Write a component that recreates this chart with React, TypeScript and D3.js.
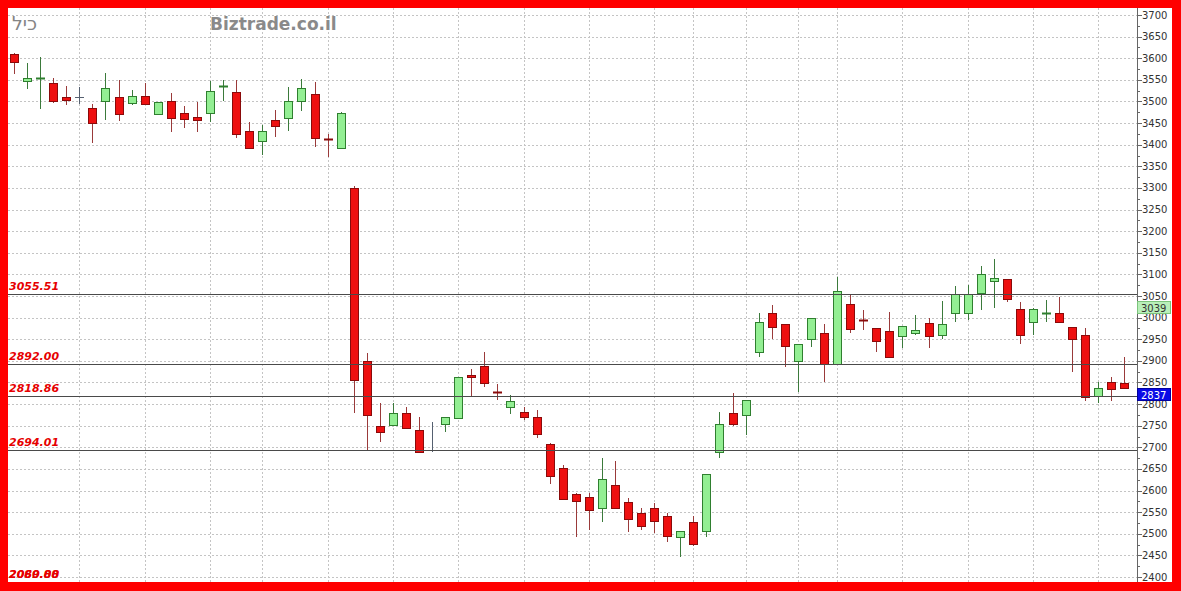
import React from 'react';
import * as d3 from 'd3';

// Daily OHLC series (oldest → newest)
const opens = [
  3610, 3547, 3551, 3542, 3511, 3510, 3484, 3503, 3511, 3496,
  3513, 3471, 3501, 3473, 3463, 3472, 3532, 3521, 3432, 3409,
  3456, 3463, 3503, 3517, 3414, 3392, 3299, 2900, 2749, 2752,
  2780, 2739, 2694, 2752, 2767, 2867, 2888, 2828, 2794, 2781,
  2770, 2707, 2651, 2591, 2586, 2559, 2613, 2573, 2549, 2559,
  2540, 2493, 2528, 2507, 2688, 2779, 2775, 2920, 3010, 2985,
  2900, 2950, 2964, 2893, 3031, 2995, 2975, 2970, 2958, 2965,
  2988, 2960, 3010, 3010, 3055, 3085, 3089, 3019, 2988, 3008,
  3010, 2979, 2960, 2819, 2850, 2848,
];
const highs = [
  3612, 3588, 3602, 3555, 3536, 3534, 3493, 3565, 3550, 3526,
  3543, 3499, 3520, 3490, 3499, 3547, 3550, 3550, 3453, 3446,
  3480, 3534, 3552, 3546, 3425, 3475, 3305, 2919, 2803, 2803,
  2794, 2769, 2759, 2769, 2863, 2880, 2921, 2846, 2821, 2794,
  2786, 2710, 2659, 2594, 2594, 2675, 2669, 2582, 2559, 2572,
  2548, 2507, 2540, 2638, 2782, 2825, 2809, 3010, 3029, 2985,
  2939, 2998, 2985, 3095, 3054, 3018, 2975, 3012, 2981, 3006,
  2998, 3039, 3074, 3075, 3119, 3135, 3089, 3035, 3023, 3041,
  3048, 2979, 2975, 2850, 2863, 2910,
];
const lows = [
  3563, 3528, 3482, 3496, 3491, 3494, 3405, 3457, 3455, 3492,
  3492, 3469, 3430, 3438, 3430, 3452, 3502, 3415, 3390, 3376,
  3417, 3432, 3479, 3395, 3372, 3390, 2779, 2694, 2713, 2752,
  2746, 2688, 2690, 2735, 2765, 2817, 2839, 2809, 2778, 2763,
  2721, 2614, 2580, 2493, 2509, 2528, 2559, 2505, 2509, 2502,
  2482, 2447, 2472, 2493, 2675, 2749, 2728, 2910, 2950, 2885,
  2829, 2931, 2852, 2893, 2964, 2971, 2921, 2910, 2929, 2960,
  2929, 2950, 2991, 2995, 3018, 3022, 3037, 2938, 2960, 2991,
  2989, 2875, 2806, 2802, 2808, 2835,
];
const closes = [
  3591, 3555, 3554, 3501, 3505, 3510, 3450, 3532, 3472, 3513,
  3494, 3499, 3462, 3460, 3456, 3524, 3536, 3424, 3392, 3432,
  3443, 3502, 3532, 3416, 3411, 3473, 2854, 2776, 2735, 2780,
  2746, 2688, 2694, 2769, 2862, 2862, 2848, 2826, 2807, 2769,
  2730, 2633, 2580, 2574, 2555, 2626, 2559, 2534, 2518, 2528,
  2493, 2507, 2478, 2638, 2753, 2753, 2809, 2989, 2978, 2934,
  2939, 2998, 2893, 3062, 2974, 2992, 2944, 2910, 2981, 2971,
  2958, 2985, 3054, 3054, 3100, 3091, 3042, 2960, 3019, 3010,
  2989, 2951, 2817, 2837, 2833, 2837,
];

// Horizontal support / resistance levels
const levels = [3055.51, 2892.0, 2818.86, 2694.01];
// Levels lying below the visible price range (labels pinned to the bottom)
const hiddenLevels = [2060.0, 2089.88];

// Session indices where the vertical grid lines fall
const gridSessions = [5, 10, 15, 19, 24, 29, 34, 39, 44, 49, 52, 56, 60, 63, 68, 73, 78, 83];

const yTicks = d3.range(2400, 3701, 50);
const yMinorTicks = d3.range(2425, 3700, 50);

// Value markers on the price axis
const markerValues = [3039, 2837];
const markerFills = ['#b9efb9', '#0a0ae6'];
const markerStrokes = ['#7cc47c', '#0000a0'];
const markerText = ['#333333', '#ffffff'];

const W = 1181;
const H = 591;
const frameL = 8;
const frameT = 8;
const frameR = 1172;
const frameB = 582;
const axisX = 1137;

const RED_FILL = '#ee1010';
const RED_STROKE = '#8a0a0a';
const RED_WICK = '#9a3a3a';
const GREEN_FILL = '#93ef93';
const GREEN_STROKE = '#2f7f2f';
const GREEN_WICK = '#3b7a3b';
const FLAT = '#556070';

export default function App() {
  const n = opens.length;
  const x = d3
    .scaleBand<number>()
    .domain(d3.range(n))
    .range([7.5, 1131])
    .paddingInner(0);
  const y = d3.scaleLinear().domain([2400, 3700]).range([577, 15]);
  const yc = d3.scaleLinear().domain([2400, 3700]).range([577, 15]).clamp(true);

  const cx = (i: number) => Math.round((x(i) as number) + x.bandwidth() / 2);
  const crisp = (v: number) => Math.round(v) + 0.5;

  return (
    <svg
      width={W}
      height={H}
      style={{ position: 'absolute', left: 0, top: 0, display: 'block' }}
      xmlns="http://www.w3.org/2000/svg"
    >
      <rect x={0} y={0} width={W} height={H} fill="#ff0000" />
      <rect x={frameL} y={frameT} width={frameR - frameL} height={frameB - frameT} fill="#ffffff" />

      {/* grid */}
      <g stroke="#c4c4c4" strokeWidth={1} strokeDasharray="2,2">
        {yTicks.map((t) => (
          <line key={'h' + t} x1={frameL} x2={axisX} y1={crisp(y(t))} y2={crisp(y(t))} />
        ))}
        {gridSessions.map((s) => (
          <line key={'v' + s} x1={cx(s) + 0.5} x2={cx(s) + 0.5} y1={frameT} y2={frameB} />
        ))}
      </g>

      {/* watermark & symbol */}
      <text
        x={12}
        y={30}
        fontFamily="DejaVu Sans, sans-serif"
        fontSize={19}
        fill="#858585"
      >
        כיל
      </text>
      <text
        x={210}
        y={30}
        fontFamily="DejaVu Sans, sans-serif"
        fontWeight="bold"
        fontSize={17}
        fill="#8a8a8a"
      >
        Biztrade.co.il
      </text>

      {/* candles */}
      <g>
        {opens.map((o, i) => {
          const c = closes[i];
          const up = c > o;
          const flat = c === o;
          const xc = cx(i);
          const wick = flat ? FLAT : up ? GREEN_WICK : RED_WICK;
          const top = y(Math.max(o, c));
          const bot = y(Math.min(o, c));
          const h = bot - top;
          return (
            <g key={'c' + i}>
              <line
                x1={xc + 0.5}
                x2={xc + 0.5}
                y1={Math.round(y(highs[i]))}
                y2={Math.round(y(lows[i]))}
                stroke={wick}
                strokeWidth={1}
              />
              {h < 2 ? (
                <line
                  x1={xc - 4}
                  x2={xc + 5}
                  y1={crisp(top)}
                  y2={crisp(top)}
                  stroke={flat ? FLAT : up ? GREEN_STROKE : RED_STROKE}
                  strokeWidth={flat ? 1 : 2}
                />
              ) : (
                <rect
                  x={xc - 4 + 0.5}
                  y={crisp(top)}
                  width={8}
                  height={Math.max(1, Math.round(h))}
                  fill={up ? GREEN_FILL : RED_FILL}
                  stroke={up ? GREEN_STROKE : RED_STROKE}
                  strokeWidth={1}
                />
              )}
            </g>
          );
        })}
      </g>

      {/* level lines */}
      <g stroke="#4a4a4a" strokeWidth={1}>
        {levels.map((v) => (
          <line key={'l' + v} x1={frameL} x2={axisX} y1={crisp(y(v))} y2={crisp(y(v))} />
        ))}
      </g>

      {/* level labels */}
      <g
        fontFamily="DejaVu Sans, sans-serif"
        fontWeight="bold"
        fontStyle="italic"
        fontSize={11}
        fill="#e60000"
      >
        {levels.map((v) => (
          <text key={'lt' + v} x={9} y={Math.round(y(v)) - 4}>
            {v.toFixed(2)}
          </text>
        ))}
        {hiddenLevels.map((v) => (
          <text key={'ht' + v} x={9} y={Math.round(yc(v)) + 1}>
            {v.toFixed(2)}
          </text>
        ))}
      </g>

      {/* price axis */}
      <line x1={axisX + 0.5} x2={axisX + 0.5} y1={frameT} y2={frameB} stroke="#666666" strokeWidth={1} />
      <g stroke="#666666" strokeWidth={1}>
        {yTicks.map((t) => (
          <line key={'tk' + t} x1={axisX} x2={axisX + 5} y1={crisp(y(t))} y2={crisp(y(t))} />
        ))}
        {yMinorTicks.map((t) => (
          <line key={'mt' + t} x1={axisX} x2={axisX + 3} y1={crisp(y(t))} y2={crisp(y(t))} />
        ))}
      </g>
      <g fontFamily="DejaVu Sans, sans-serif" fontSize={10} fill="#333333">
        {yTicks.map((t) => (
          <text key={'yl' + t} x={1142} y={y(t)} dy="0.35em">
            {t}
          </text>
        ))}
      </g>

      {/* value markers */}
      {markerValues.map((v, k) => {
        const top = Math.round(y(v));
        return (
          <g key={'m' + v}>
            <rect
              x={axisX + 0.5}
              y={top + 0.5}
              width={frameR - axisX - 2}
              height={12}
              fill={markerFills[k]}
              stroke={markerStrokes[k]}
              strokeWidth={1}
            />
            <text
              x={axisX + 4}
              y={top + 7}
              dy="0.35em"
              fontFamily="DejaVu Sans, sans-serif"
              fontSize={10}
              fill={markerText[k]}
            >
              {v}
            </text>
          </g>
        );
      })}
    </svg>
  );
}
